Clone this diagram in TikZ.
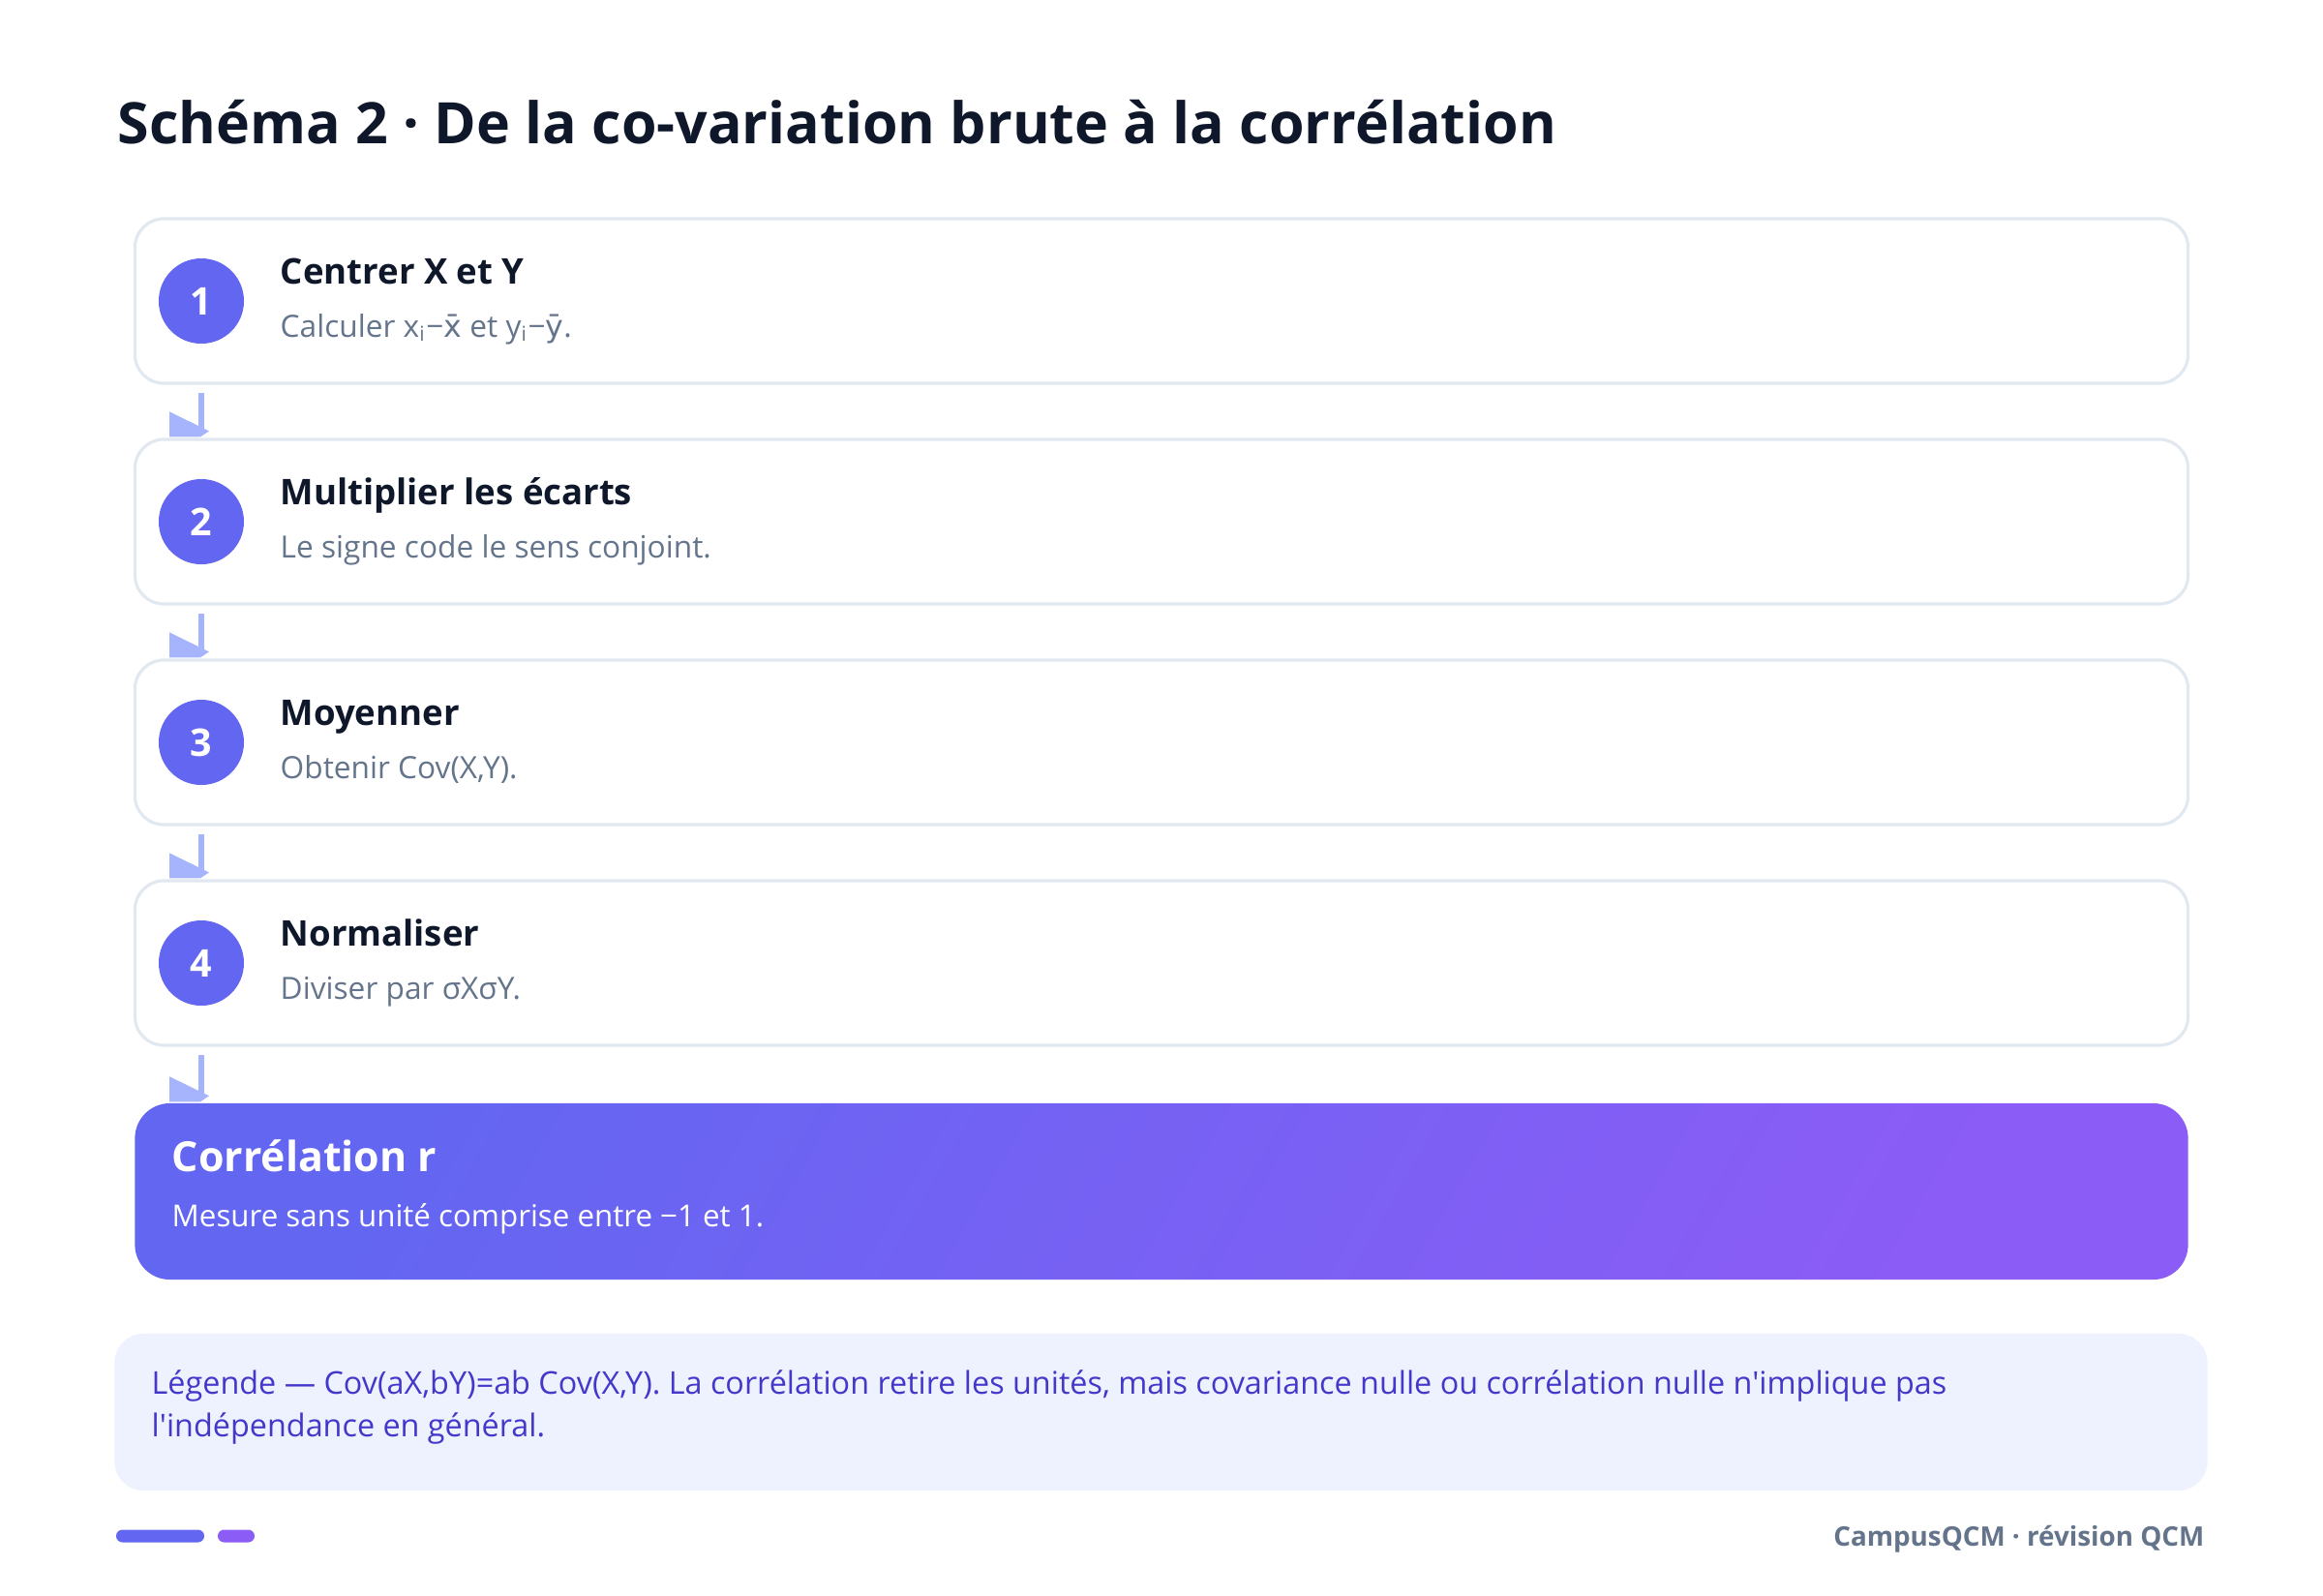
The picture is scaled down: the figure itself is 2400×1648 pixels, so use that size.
\documentclass[tikz,border=0pt]{standalone}
\usepackage{fontspec}
\setmainfont{Open Sans}[Ligatures=TeXOff]
\newfontfamily\dejavu{DejaVu Sans}
\usetikzlibrary{positioning}

\definecolor{ink}{HTML}{0F172A}
\definecolor{muted}{HTML}{64748B}
\definecolor{cardline}{HTML}{E2E8F0}
\definecolor{indigo}{HTML}{6366F1}
\definecolor{violet}{HTML}{8B5CF6}
\definecolor{flowcol}{HTML}{A5B4FC}
\definecolor{legendfill}{HTML}{EEF2FF}
\definecolor{legendink}{HTML}{4338CA}

\tikzset{
  card/.style={draw=cardline, line width=0.9pt, fill=white, rounded corners=0.3cm,
    minimum width=21.2cm, minimum height=1.7cm, inner sep=0pt},
  num/.style={circle, fill=indigo, minimum size=0.88cm, inner sep=0pt, text=white,
    font=\fontsize{11.2}{13}\selectfont\bfseries},
  cardtitle/.style={anchor=base west, inner sep=0pt, text=ink, font=\fontsize{10.4}{12}\selectfont\bfseries},
  cardsub/.style={anchor=base west, inner sep=0pt, text=muted, font=\fontsize{9}{11}\selectfont},
  flow/.style={draw=flowcol, line width=1.7pt},
  flowhead/.style={fill=flowcol},
}

\begin{document}
\begin{tikzpicture}[x=0.01cm, y=-0.01cm]

\useasboundingbox[fill=white] (0,0) rectangle (2400,1648);

\node[anchor=base west, inner sep=0pt, text=ink, font=\fontsize{16.8}{20}\selectfont\bfseries]
  (title) at (121,148) {Schéma 2 · De la co-variation brute à la corrélation};

% the four steps, one card each
\foreach \i/\head/\sub in {1/Centrer X et Y/{Calculer x\textsubscript{i}−{\dejavu x̄} et y\textsubscript{i}−{\dejavu ȳ}.},
    2/Multiplier les écarts/Le signe code le sens conjoint.,
    3/Moyenner/{Obtenir Cov(X,Y).},
    4/Normaliser/Diviser par σXσY.}{%
  \node[card] (card\i) at (1200,311+228*\i-228) {};
  \node[num] (num\i) at (208,311+228*\i-228) {\i};
  \node[cardtitle] (head\i) at (289,293+228*\i-228) {\head};
  \node[cardsub] (sub\i) at (289,348+228*\i-228) {\sub};
}

% result
\node[shading=axis, top color=indigo, bottom color=violet, shading angle=60,
  rounded corners=0.36cm, minimum width=21.2cm, minimum height=1.82cm, inner sep=0pt]
  (result) at (1200,1231) {};
\node[anchor=base west, inner sep=0pt, text=white, font=\fontsize{12.2}{14}\selectfont\bfseries]
  (reshead) at (177,1210) {Corrélation r};
\node[anchor=base west, inner sep=0pt, text=white, font=\fontsize{8.9}{12}\selectfont]
  (ressub) at (177,1267) {Mesure sans unité comprise entre −1 et 1.};

% connectors
\foreach \i/\j in {1/card2,2/card3,3/card4,4/result}{%
  \draw[flow, shorten <=0.08cm, shorten >=0.06cm] (num\i |- card\i.south) -- (num\i |- \j.north);
  \fill[flowhead] (num\i |- \j.north) ++(-33,-27) -- ++(41,20) -- ++(-9,6) -- ++(-32,0) -- cycle;
}

% legend
\node[fill=legendfill, rounded corners=0.3cm, minimum width=21.61cm, minimum height=1.62cm, inner sep=0pt]
  (legend) at (1199.5,1459) {};
\node[anchor=base west, inner sep=0pt, align=left, text=legendink, font=\fontsize{9.2}{12.5}\selectfont]
  (legendtext) at (156,1484) {Légende — Cov(aX,bY)=ab Cov(X,Y). La corrélation retire les unités, mais covariance nulle ou corrélation nulle n'implique pas\\l'indépendance en général.};

% footer
\node[fill=indigo, rounded corners=0.065cm, minimum width=0.91cm, minimum height=0.13cm, inner sep=0pt]
  (bar1) at (165.5,1587) {};
\node[fill=violet, rounded corners=0.065cm, minimum width=0.38cm, minimum height=0.13cm, inner sep=0pt]
  (bar2) at (244,1587) {};
\node[anchor=base east, inner sep=0pt, text=muted, font=\fontsize{7.9}{10}\selectfont\bfseries]
  (foot) at (2278,1597) {CampusQCM · révision QCM};

\end{tikzpicture}
\end{document}
